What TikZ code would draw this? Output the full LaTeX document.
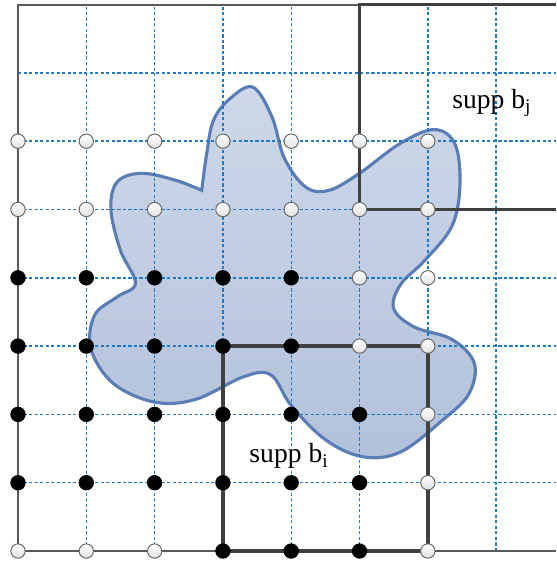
\documentclass[tikz,border=0pt]{standalone}
\usepackage{fontspec}
\setmainfont{Liberation Serif}
\usepackage{xcolor}
\usepackage{tikz}
\usetikzlibrary{calc}
\definecolor{gridblue}{HTML}{1F78C8}
\definecolor{blobline}{HTML}{5A7DB6}
\definecolor{blobtop}{HTML}{CED8E9}
\definecolor{blobbot}{HTML}{B2C1DB}
\definecolor{framegray}{HTML}{5A5A5A}
\tikzset{
  gridline/.style={draw=gridblue, line width=0.6pt, dash pattern=on 1.3pt off 1pt},
  frame/.style={draw=framegray, line width=0.8pt},
  suppline/.style={draw=black!75, line width=1.5pt},
  blob/.style={draw=blobline, line width=1.3pt, top color=blobtop, bottom color=blobbot},
  opendot/.style={circle, draw=black!60, line width=0.4pt, top color=white,
    bottom color=black!12, minimum size=2.1mm, inner sep=0pt},
  fulldot/.style={circle, draw=black, fill=black, minimum size=2.1mm, inner sep=0pt},
  supplabel/.style={font=\fontsize{11.5}{13}\selectfont, inner sep=1pt},
}

\begin{document}
\begin{tikzpicture}
  \useasboundingbox (-0.2635,-0.146) rectangle (7.877,8.067);
  % the domain
  \path[blob] plot[smooth, tension=0.6] coordinates {
    (2.69,5.28) (2.76,5.8) (2.86,6.3) (3.1,6.62) (3.44,6.79) (3.72,6.35)
    (3.90,5.75) (4.21,5.33) (4.55,5.28) (5.0,5.53) (5.6,5.97) (6.1,6.17)
    (6.40,5.95) (6.47,5.35) (6.35,4.75) (5.95,4.25) (5.6,3.9) (5.5,3.55)
    (5.8,3.28) (6.35,3.1) (6.68,2.75) (6.6,2.3) (6.22,1.92) (5.6,1.45)
    (5.05,1.38) (4.5,1.63) (4.0,2.13) (3.7,2.58) (3.3,2.55) (2.6,2.22)
    (2.0,2.18) (1.4,2.45) (1.07,2.95) (1.12,3.45) (1.45,3.72) (1.72,3.92)
    (1.5,4.4) (1.36,5.0) (1.45,5.4) (1.8,5.53) (2.3,5.43) (2.69,5.28)} -- cycle;
  % grid
  \foreach \x in {1,...,7}
    \draw[gridline] (\x,0) -- (\x,8);
  \foreach \y in {1,...,7}
    \draw[gridline] (0,\y) -- (7.877,\y);
  \draw[frame] (5,8) -- (0,8) -- (0,0) -- (7.877,0);
  % supports
  \draw[suppline] (7.877,8) -- (5,8) -- (5,5) -- (7.877,5);
  \draw[suppline] (3,0) rectangle (6,3);
  % grid points
  \foreach \x/\y in {0/6,1/6,2/6,3/6,4/6,5/6,6/6,0/5,1/5,2/5,3/5,4/5,5/5,6/5,
      5/4,6/4,5/3,6/3,6/2,6/1,0/0,1/0,2/0,6/0}
    \node[opendot] (p-\x-\y) at (\x,\y) {};
  \foreach \x/\y in {0/4,1/4,2/4,3/4,4/4,0/3,1/3,2/3,3/3,4/3,
      0/2,1/2,2/2,3/2,4/2,5/2,0/1,1/1,2/1,3/1,4/1,5/1,3/0,4/0,5/0}
    \node[fulldot] (p-\x-\y) at (\x,\y) {};
  \node[supplabel] (suppj) at (6.94,6.56) {supp b\textsubscript{j}};
  \node[supplabel] (suppi) at (3.97,1.39) {supp b\textsubscript{i}};
\end{tikzpicture}
\end{document}
